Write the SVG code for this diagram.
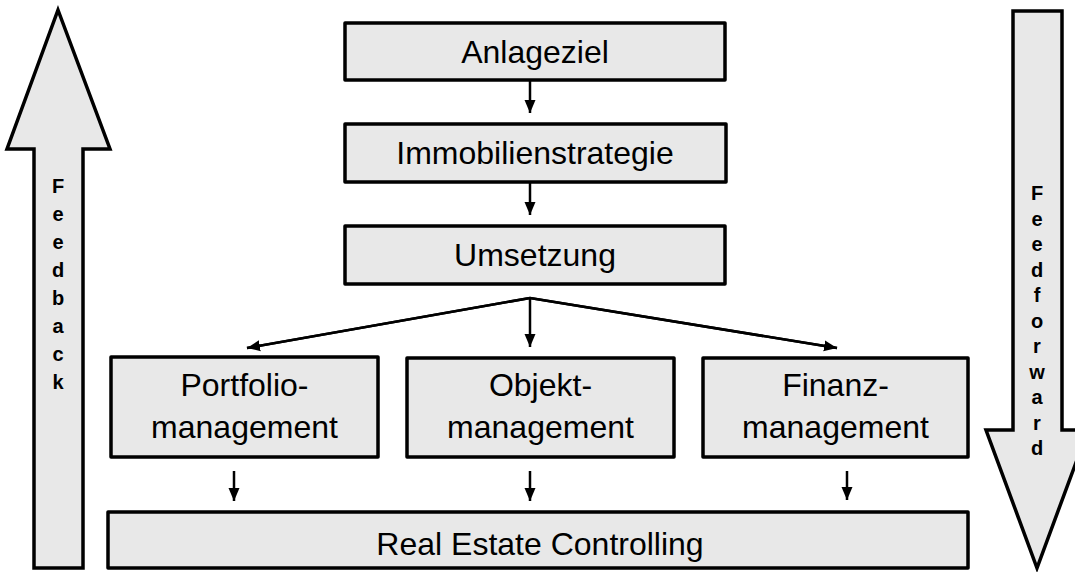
<svg xmlns="http://www.w3.org/2000/svg" width="1075" height="572" viewBox="0 0 1075 572">
<defs>
<marker id="ah" markerUnits="userSpaceOnUse" markerWidth="14" markerHeight="14" viewBox="0 0 14 14" refX="13" refY="7" orient="auto">
<path d="M0,1.5 L13,7 L0,12.5 Z" fill="#000"/>
</marker>
</defs>
<style>
.box{fill:#e8e8e8;stroke:#000;stroke-width:3.5;stroke-linejoin:round}
.big{fill:#e8e8e8;stroke:#000;stroke-width:3.5;stroke-linejoin:miter}
.t{font-family:"Liberation Sans",Arial,sans-serif;font-size:32px;fill:#000;text-anchor:middle}
.v{font-family:"Liberation Sans",Arial,sans-serif;font-size:20px;font-weight:bold;fill:#000;text-anchor:middle}
.c{stroke:#000;stroke-width:2.5;fill:none;marker-end:url(#ah)}
</style>
<rect width="1075" height="572" fill="#fff"/>
<g id="feedback">
<path class="big" d="M58,10 L110,149 L83,149 L83,568 L34,568 L34,149 L7,149 Z"/>
<text class="v" x="58"><tspan x="58" y="193">F</tspan><tspan x="58" y="221">e</tspan><tspan x="58" y="249">e</tspan><tspan x="58" y="277">d</tspan><tspan x="58" y="305">b</tspan><tspan x="58" y="333">a</tspan><tspan x="58" y="361">c</tspan><tspan x="58" y="389">k</tspan></text>
</g>
<g id="feedforward">
<path class="big" d="M1013,11 L1062,11 L1062,430 L1088,430 L1037,568 L986,430 L1013,430 Z"/>
<text class="v" x="1037"><tspan x="1037" y="200">F</tspan><tspan x="1037" y="225.5">e</tspan><tspan x="1037" y="251">e</tspan><tspan x="1037" y="276.5">d</tspan><tspan x="1037" y="302">f</tspan><tspan x="1037" y="327.5">o</tspan><tspan x="1037" y="353">r</tspan><tspan x="1037" y="378.5">w</tspan><tspan x="1037" y="404">a</tspan><tspan x="1037" y="429.5">r</tspan><tspan x="1037" y="455">d</tspan></text>
</g>
<g id="anlageziel">
<rect class="box" x="345" y="23" width="380" height="57"/>
<text class="t" x="535" y="63">Anlageziel</text>
</g>
<g id="immobilienstrategie">
<rect class="box" x="345" y="124" width="381" height="58"/>
<text class="t" x="535" y="164">Immobilienstrategie</text>
</g>
<g id="umsetzung">
<rect class="box" x="345" y="226" width="380" height="58"/>
<text class="t" x="535" y="266">Umsetzung</text>
</g>
<g id="portfolio">
<rect class="box" x="111" y="357" width="267" height="100"/>
<text class="t" x="244.5" y="396">Portfolio-</text>
<text class="t" x="244.5" y="438">management</text>
</g>
<g id="objekt">
<rect class="box" x="407" y="358" width="267" height="99"/>
<text class="t" x="540.5" y="396">Objekt-</text>
<text class="t" x="540.5" y="438">management</text>
</g>
<g id="finanz">
<rect class="box" x="703" y="358" width="265" height="99"/>
<text class="t" x="835.5" y="396">Finanz-</text>
<text class="t" x="835.5" y="438">management</text>
</g>
<g id="controlling">
<rect class="box" x="108" y="512" width="860" height="56"/>
<text class="t" x="540" y="555">Real Estate Controlling</text>
</g>
<g id="connectors">
<line class="c" x1="530" y1="81" x2="530" y2="113"/>
<line class="c" x1="530" y1="183" x2="530" y2="215"/>
<line class="c" x1="530" y1="298" x2="530" y2="347"/>
<path d="M247,348 L530,298 L837,348" stroke="#000" stroke-width="2.5" fill="none" stroke-linejoin="miter"/>
<line class="c" x1="530" y1="298" x2="247" y2="348"/>
<line class="c" x1="530" y1="298" x2="837" y2="348"/>
<line class="c" x1="234" y1="471" x2="234" y2="501"/>
<line class="c" x1="530" y1="471" x2="530" y2="501"/>
<line class="c" x1="847" y1="471" x2="847" y2="500"/>
</g>
</svg>
